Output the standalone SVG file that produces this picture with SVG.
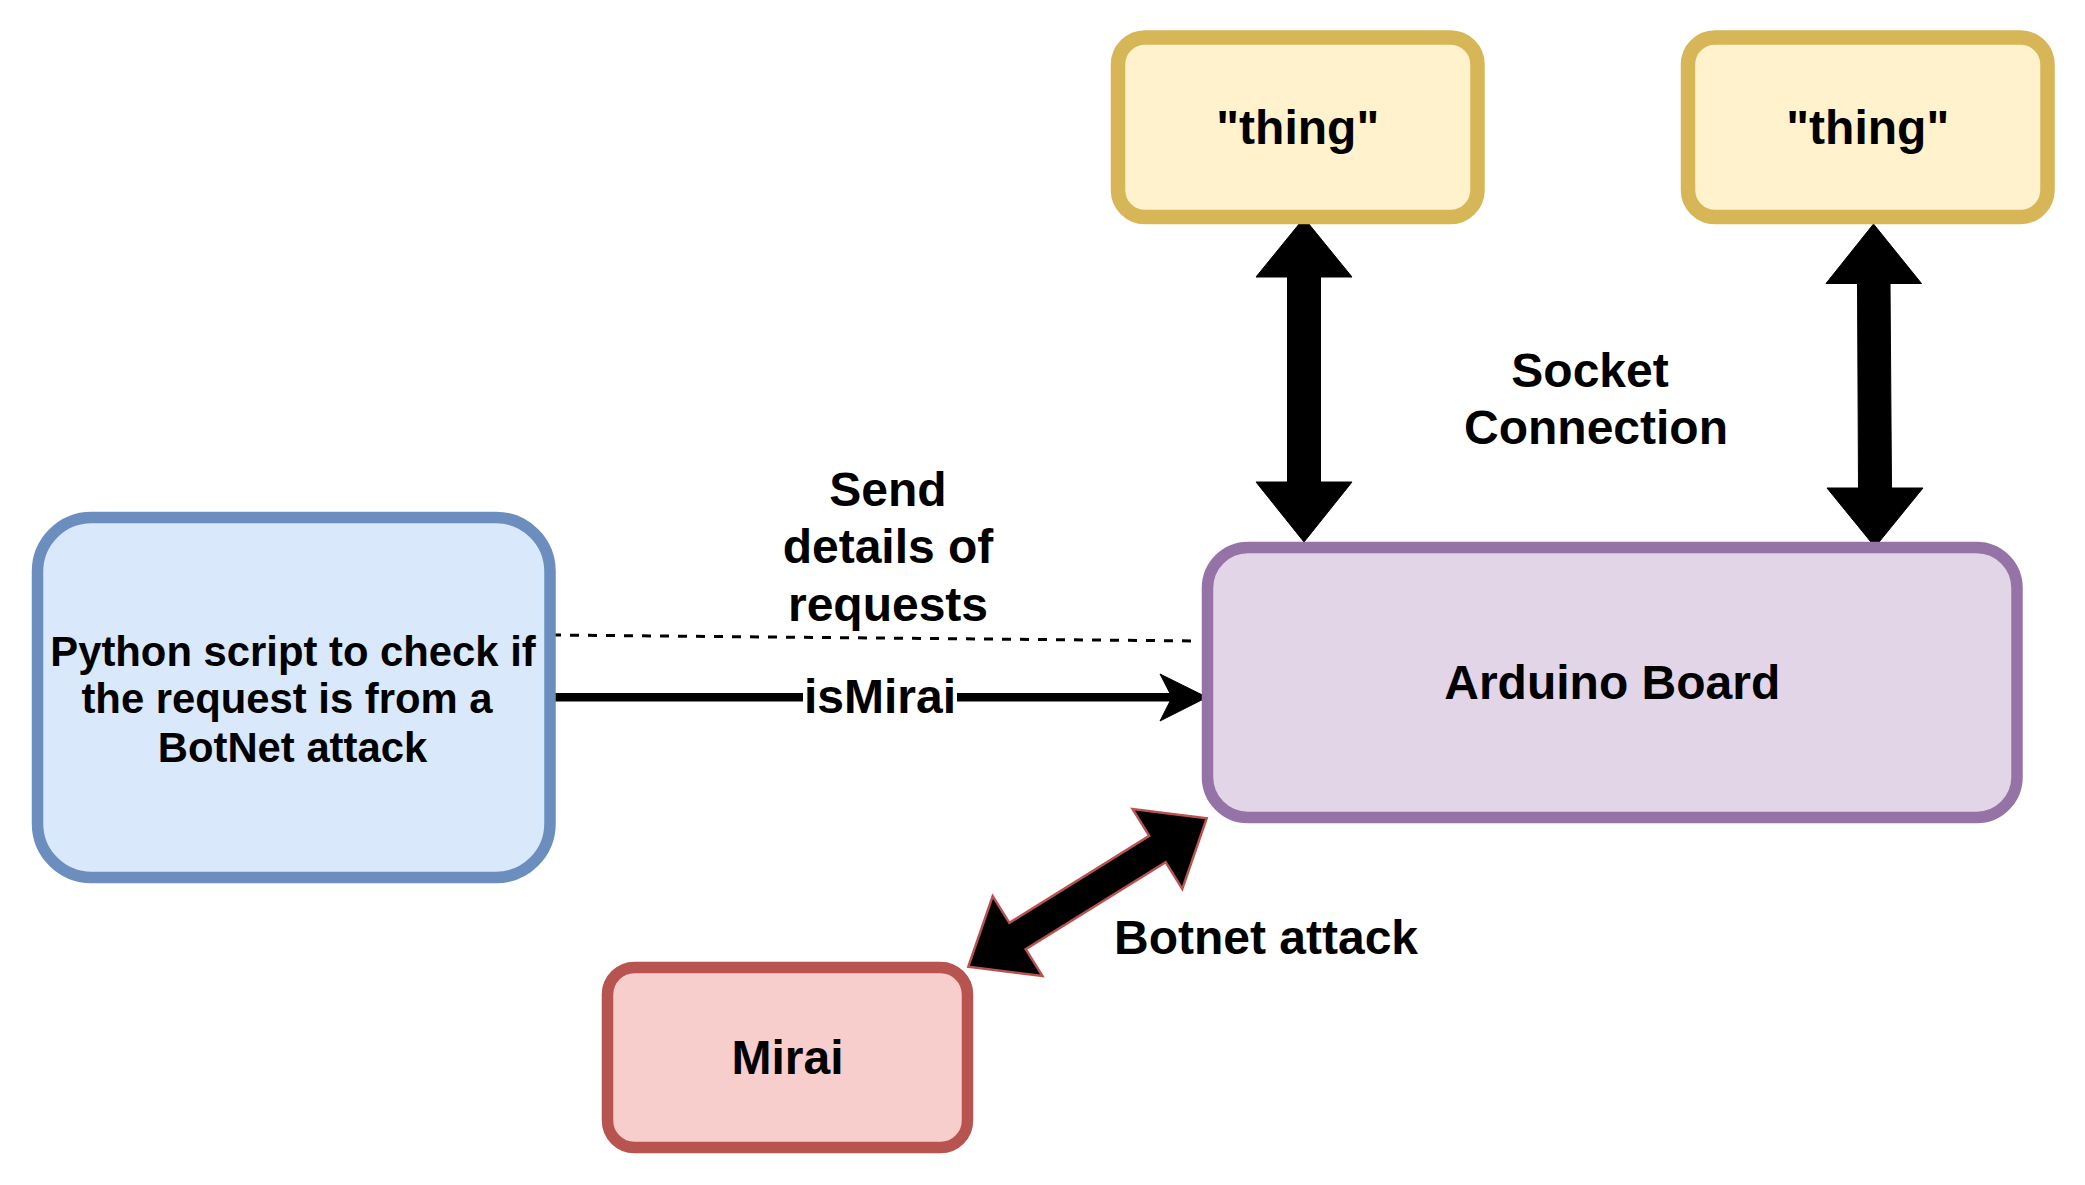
<svg xmlns="http://www.w3.org/2000/svg" width="2085" height="1185" viewBox="0 0 2085 1185">
<style>
text{font-family:"Liberation Sans",Arial,sans-serif;font-weight:bold;fill:#000;text-anchor:middle}
.t48{font-size:48px}
.t42{font-size:41.8px}
.yellow{fill:#fff2cc;stroke:#d6b656;stroke-width:14.5}
.purple{fill:#e1d5e7;stroke:#9673a6;stroke-width:11.5}
.blue{fill:#dae8fc;stroke:#6c8ebf;stroke-width:11.5}
.red{fill:#f8cecc;stroke:#b85450;stroke-width:11.5}
.block{fill:#000;stroke:#000;stroke-width:1;stroke-linejoin:miter}
.blockred{fill:#000;stroke:#b85450;stroke-width:2.5;stroke-linejoin:miter}
</style>
<rect width="2085" height="1185" fill="#fff"/>
<g id="connectors">
<path class="block" d="M1304,218 L1352,277 L1320.5,277 L1320.5,482 L1352,482 L1304,542 L1256,482 L1287.5,482 L1287.5,277 L1256,277 Z"/>
<path class="block" d="M1873.5,224 L1921.5,283.5 L1890,283.5 L1891.5,488 L1923,488 L1875,547 L1827,488 L1858.5,488 L1857.5,283.5 L1826,283.5 Z"/>
<path class="blockred" transform="translate(1087.5 892.5) rotate(-31.9)" d="M-140.4,0 L-82.4,-47 L-82.4,-15.5 L82.4,-15.5 L82.4,-47 L140.4,0 L82.4,47 L82.4,15.5 L-82.4,15.5 L-82.4,47 Z"/>
<line x1="552" y1="635" x2="1197" y2="641" stroke="#000" stroke-width="3" stroke-dasharray="9 9"/>
<line x1="550" y1="697.3" x2="803" y2="697.3" stroke="#000" stroke-width="8.5"/>
<line x1="957" y1="697.3" x2="1176" y2="697.3" stroke="#000" stroke-width="8.5"/>
<path d="M1207,697.3 L1160,674 L1172,697.3 L1160,721 Z" fill="#000" stroke="#000" stroke-width="1"/>
<text class="t48" x="880" y="712.7">isMirai</text>
<text class="t48"><tspan x="888" y="505.7">Send</tspan><tspan x="888" y="563.3">details of</tspan><tspan x="888" y="620.9">requests</tspan></text>
<text class="t48"><tspan x="1590" y="386.7">Socket</tspan><tspan x="1596" y="444.3">Connection</tspan></text>
<text class="t48" x="1266" y="954">Botnet attack</text>
</g>
<g id="thing1">
<rect class="yellow" x="1118" y="37.5" width="359.5" height="179.5" rx="27" ry="27"/>
<text class="t48" x="1297.75" y="144">"thing"</text>
</g>
<g id="thing2">
<rect class="yellow" x="1688" y="37.5" width="359.5" height="179.5" rx="27" ry="27"/>
<text class="t48" x="1867.75" y="144">"thing"</text>
</g>
<g id="arduino">
<rect class="purple" x="1207.5" y="547.5" width="809.5" height="270" rx="40.5" ry="40.5"/>
<text class="t48" x="1612.25" y="698.5">Arduino Board</text>
</g>
<g id="python">
<rect class="blue" x="37.5" y="517.5" width="512.5" height="360" rx="54" ry="54"/>
<text class="t42"><tspan x="293" y="666">Python script to check if</tspan><tspan x="287" y="713">the request is from a</tspan><tspan x="292.5" y="761.5">BotNet attack</tspan></text>
</g>
<g id="mirai">
<rect class="red" x="607.5" y="967.5" width="360" height="180" rx="27" ry="27"/>
<text class="t48" x="787.5" y="1074.3">Mirai</text>
</g>
</svg>
